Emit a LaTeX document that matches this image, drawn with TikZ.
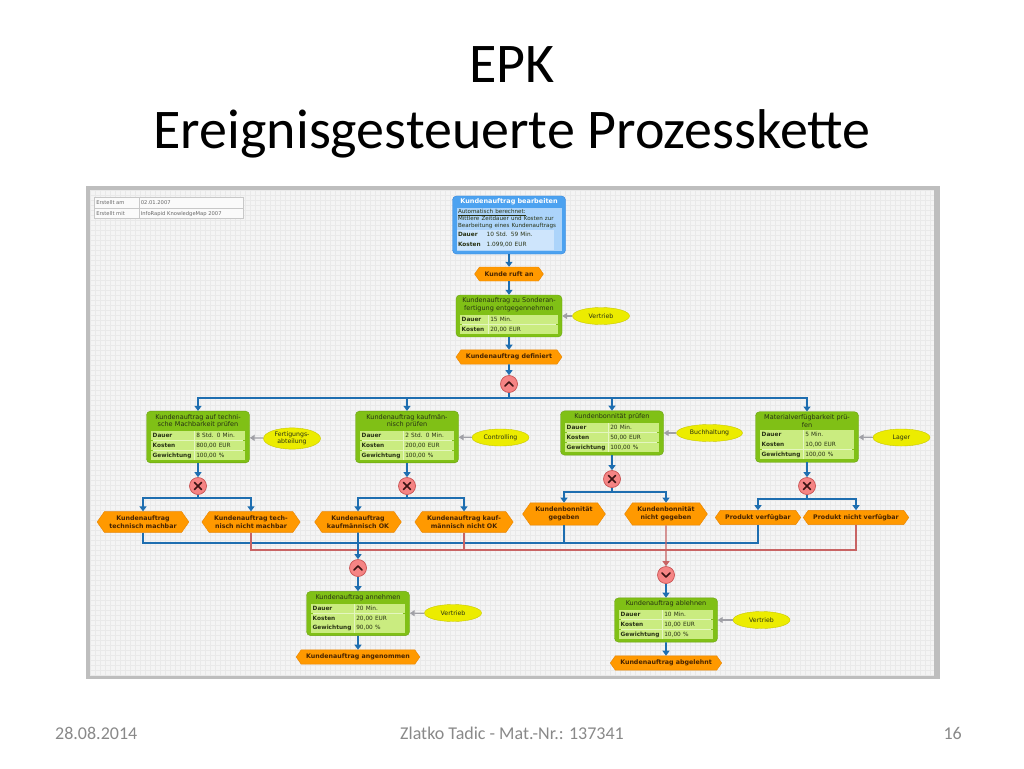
\documentclass[tikz,border=0pt]{standalone}
\usepackage{fontspec}
\setmainfont{Carlito}
\newfontfamily\epkfont{DejaVu Sans}
\usepackage{colortbl}
\usetikzlibrary{positioning,shapes.geometric,shapes.symbols,arrows.meta}

\definecolor{canvas}{RGB}{244,244,244}
\definecolor{gridline}{RGB}{233,233,233}
\definecolor{framegray}{RGB}{190,190,190}
\definecolor{funcgreen}{RGB}{128,192,22}
\definecolor{funcline}{RGB}{106,162,16}
\definecolor{epkcell}{RGB}{202,236,128}
\definecolor{epkrule}{RGB}{228,246,192}
\definecolor{procblue}{RGB}{76,162,240}
\definecolor{procline}{RGB}{52,132,218}
\definecolor{proclight}{RGB}{172,212,250}
\definecolor{proccell}{RGB}{206,229,252}
\definecolor{eventorange}{RGB}{255,153,0}
\definecolor{eventline}{RGB}{232,132,0}
\definecolor{eventtext}{RGB}{70,35,0}
\definecolor{orgyellow}{RGB}{236,236,0}
\definecolor{orgline}{RGB}{200,200,0}
\definecolor{connpink}{RGB}{245,132,132}
\definecolor{connline}{RGB}{200,82,82}
\definecolor{signdark}{RGB}{60,20,20}
\definecolor{flowblue}{RGB}{30,110,176}
\definecolor{negred}{RGB}{200,100,100}
\definecolor{orggrey}{RGB}{160,160,166}
\definecolor{textdark}{RGB}{40,50,20}
\definecolor{infoline}{RGB}{200,200,200}
\definecolor{footgray}{RGB}{137,137,137}

\setlength{\tabcolsep}{1.5pt}
\setlength{\arrayrulewidth}{0.6pt}
\setlength{\fboxsep}{1.5pt}
\renewcommand{\arraystretch}{1.4}

\newcommand{\epktabfont}{\fontsize{5.8}{6.6}\selectfont}
\newcommand{\epkcell}{\cellcolor{epkcell}}
\newcommand{\epktab}[3]{{\epktabfont\arrayrulecolor{epkrule}%
  \begin{tabular}{@{}p{40pt}|p{47pt}@{}}
    \epkcell\textbf{Dauer} & \epkcell #1\\\hline
    \epkcell\textbf{Kosten} & \epkcell #2\\\hline
    \epkcell\textbf{Gewichtung} & \epkcell #3
  \end{tabular}}}
\newcommand{\epktabtwo}[2]{{\epktabfont\arrayrulecolor{epkrule}%
  \begin{tabular}{@{}p{25pt}|p{66pt}@{}}
    \epkcell\textbf{Dauer} & \epkcell #1\\\hline
    \epkcell\textbf{Kosten} & \epkcell #2
  \end{tabular}}}

\begin{document}
\begin{tikzpicture}[x=1pt, y=-1pt,
  slidetitle/.style={font=\fontsize{56}{68}\selectfont, inner sep=0pt},
  slidefoot/.style={font=\fontsize{18}{22}\selectfont, text=footgray, inner sep=0pt},
  func/.style={rectangle, rounded corners=4pt, draw=funcline, fill=funcgreen, text width=96pt, align=center, inner xsep=3.5pt, inner ysep=3pt, text=textdark, font=\epkfont\fontsize{6.5}{7.6}\selectfont},
  proc/.style={func, draw=procline, fill=procblue, text width=106pt},
  event/.style={signal, signal to=east and west, signal pointer angle=110, draw=eventline, fill=eventorange, align=center, inner xsep=5pt, inner ysep=4pt, minimum height=14pt, text=eventtext, font=\epkfont\bfseries\fontsize{6.3}{8}\selectfont},
  org/.style={ellipse, draw=orgline, fill=orgyellow, minimum width=57pt, minimum height=17pt, inner sep=1pt, align=center, text=textdark, font=\epkfont\fontsize{6.2}{7}\selectfont},
  conn/.style={circle, draw=connline, fill=connpink, minimum size=17pt, inner sep=0pt, line width=0.7pt},
  connsign/.style={draw=signdark, line width=1.7pt, line cap=round, line join=round},
  andconn/.style={conn, path picture={\draw[connsign] ([shift={(-4pt,-2pt)}]path picture bounding box.center) -- ++(4pt,4pt) -- ++(4pt,-4pt);}},
  orconn/.style={conn, path picture={\draw[connsign] ([shift={(-4pt,2pt)}]path picture bounding box.center) -- ++(4pt,-4pt) -- ++(4pt,4pt);}},
  xorconn/.style={conn, path picture={
    \draw[connsign] ([shift={(-3.5pt,-3.5pt)}]path picture bounding box.center) -- ([shift={(3.5pt,3.5pt)}]path picture bounding box.center);
    \draw[connsign] ([shift={(-3.5pt,3.5pt)}]path picture bounding box.center) -- ([shift={(3.5pt,-3.5pt)}]path picture bounding box.center);}},
  flow/.style={draw=flowblue, line width=1.6pt, -{Triangle[width=7pt,length=5pt]}},
  flowline/.style={draw=flowblue, line width=1.6pt},
  negflow/.style={draw=negred, line width=1.3pt, -{Triangle[width=7pt,length=5pt]}},
  negline/.style={draw=negred, line width=1.3pt},
  orgflow/.style={draw=orggrey, line width=1.2pt, -{Triangle[width=6pt,length=5pt]}},
  infotab/.style={inner sep=0pt, fill=white!55!canvas, text=black!60, font=\epkfont\fontsize{5.2}{7}\selectfont}
]
  \useasboundingbox (0,0) rectangle (1024,768);
  \fill[white] (0,0) rectangle (1024,768);

  \node[slidetitle, anchor=base] (t1) at (512,82) {EPK};
  \node[slidetitle, anchor=base] (t2) at (512,148) {Ereignisgesteuerte Prozesskette};

  \fill[framegray] (86,186) rectangle (940,679);
  \fill[canvas] (90,190) rectangle (934,675);
  \draw[gridline, step=5pt, line width=0.4pt] (90,675) grid (934,190);

  \node[infotab, anchor=north west] (info) at (94,197) {\arrayrulecolor{infoline}%
    \begin{tabular}{|p{41pt}|p{101pt}|}\hline
      Erstellt am & 02.01.2007\\\hline
      Erstellt mit & InfoRapid KnowledgeMap 2007\\\hline
    \end{tabular}};

  \node[proc] (top) at (509,225) {{\color{white}\bfseries Kundenauftrag bearbeiten}\\[1.5pt]
    \colorbox{proclight}{\parbox{102pt}{\fontsize{5.6}{6.6}\selectfont\raggedright\underline{Automatisch berechnet:}\\[0.5pt]
      Mittlere Zeitdauer und Kosten zur\\Bearbeitung eines Kundenauftrags\\[1pt]
      \colorlet{epkcell}{proccell}\colorlet{epkrule}{proclight}\epktabtwo{10 Std. 59 Min.}{1.099,00 EUR}}}};
  \node[event] (ev0) at (509,274) {Kunde ruft an};
  \node[func, text width=99pt] (f0) at (509,316) {Kundenauftrag zu Sonderan-\\fertigung entgegennehmen\\[2pt]\epktabtwo{15 Min.}{20,00 EUR}};
  \node[org] (o0) at (601,316) {Vertrieb};
  \node[event] (ev1) at (509,357) {Kundenauftrag definiert};
  \node[andconn] (and1) at (509,384) {};
  \coordinate (s0) at (509,398);

  \node[func] (f1) at (198,437) {Kundenauftrag auf techni-\\sche Machbarkeit prüfen\\[2pt]\epktab{8 Std. 0 Min.}{800,00 EUR}{100,00 \%}};
  \node[func] (f2) at (407,437) {Kundenauftrag kaufmän-\\nisch prüfen\\[2pt]\epktab{2 Std. 0 Min.}{200,00 EUR}{100,00 \%}};
  \node[func] (f3) at (612,433) {Kundenbonnität prüfen\\[2pt]\epktab{20 Min.}{50,00 EUR}{100,00 \%}};
  \node[func] (f4) at (807,437) {Materialverfügbarkeit prü-\\fen\\[2pt]\epktab{5 Min.}{10,00 EUR}{100,00 \%}};
  \node[org] (o1) at (292,438.5) {Fertigungs-\\abteilung};
  \node[org] (o2) at (500.5,437.5) {Controlling};
  \node[org, minimum width=66pt] (o3) at (709.5,433) {Buchhaltung};
  \node[org] (o4) at (901.5,437.5) {Lager};

  \node[xorconn] (x1) at (198,486) {};
  \node[xorconn] (x2) at (407,486) {};
  \node[xorconn] (x3) at (612,479) {};
  \node[xorconn] (x4) at (807,486) {};
  \coordinate (s1) at (198,498);
  \coordinate (s2) at (407,498);
  \coordinate (s3) at (612,492);
  \coordinate (s4) at (807,499);

  \node[event] (e1) at (143,522) {Kundenauftrag\\technisch machbar};
  \node[event] (e2) at (251,522) {Kundenauftrag tech-\\nisch nicht machbar};
  \node[event] (e3) at (358,522) {Kundenauftrag\\kaufmännisch OK};
  \node[event] (e4) at (464,522) {Kundenauftrag kauf-\\männisch nicht OK};
  \node[event] (e5) at (564,514) {Kundenbonnität\\gegeben};
  \node[event] (e6) at (666,514) {Kundenbonnität\\nicht gegeben};
  \node[event] (e7) at (758,517.5) {Produkt verfügbar};
  \node[event] (e8) at (856,517.5) {Produkt nicht verfügbar};
  \coordinate (j1) at (358,543);
  \coordinate (j2) at (666,550);

  \node[andconn] (and2) at (358,568) {};
  \node[func] (f5) at (358,613.5) {Kundenauftrag annehmen\\[2pt]\epktab{20 Min.}{20,00 EUR}{90,00 \%}};
  \node[org] (o5) at (453,613) {Vertrieb};
  \node[event] (ev5) at (358,657) {Kundenauftrag angenommen};
  \node[orconn] (or1) at (666,575) {};
  \node[func] (f6) at (666,620) {Kundenauftrag ablehnen\\[2pt]\epktab{10 Min.}{10,00 EUR}{10,00 \%}};
  \node[org] (o6) at (761.5,620) {Vertrieb};
  \node[event] (ev6) at (666,663) {Kundenauftrag abgelehnt};

  \draw[flow] (top) -- (ev0);
  \draw[flow] (ev0) -- (f0);
  \draw[flow] (f0) -- (ev1);
  \draw[flow] (ev1) -- (and1);
  \draw[flowline] (and1) -- (s0);
  \foreach \f in {f1,f2,f3,f4}
    \draw[flow] (s0) -| (\f);
  \foreach \o/\f in {o0/f0,o1/f1,o2/f2,o3/f3,o4/f4,o5/f5,o6/f6}
    \draw[orgflow] (\o) -- (\f);
  \foreach \f/\x/\s/\a/\b in {f1/x1/s1/e1/e2,f2/x2/s2/e3/e4,f3/x3/s3/e5/e6,f4/x4/s4/e7/e8} {
    \draw[flow] (\f) -- (\x);
    \draw[flowline] (\x) -- (\s);
    \draw[flow] (\s) -| (\a);
    \draw[flow] (\s) -| (\b);
  }
  \foreach \e in {e1,e5,e7}
    \draw[flowline] (\e) |- (j1);
  \foreach \e in {e2,e4,e8}
    \draw[negline] (\e) |- (j2);
  \draw[flow] (e3) -- (and2);
  \draw[negflow] (e6) -- (or1);
  \draw[flow] (and2) -- (f5);
  \draw[flow] (f5) -- (ev5);
  \draw[flow] (or1) -- (f6);
  \draw[flow] (f6) -- (ev6);

  \node[slidefoot, anchor=base west] (date) at (55,739) {28.08.2014};
  \node[slidefoot, anchor=base] (author) at (512,739) {Zlatko Tadic - Mat.-Nr.: 137341};
  \node[slidefoot, anchor=base east] (page) at (962,739) {16};
\end{tikzpicture}
\end{document}
